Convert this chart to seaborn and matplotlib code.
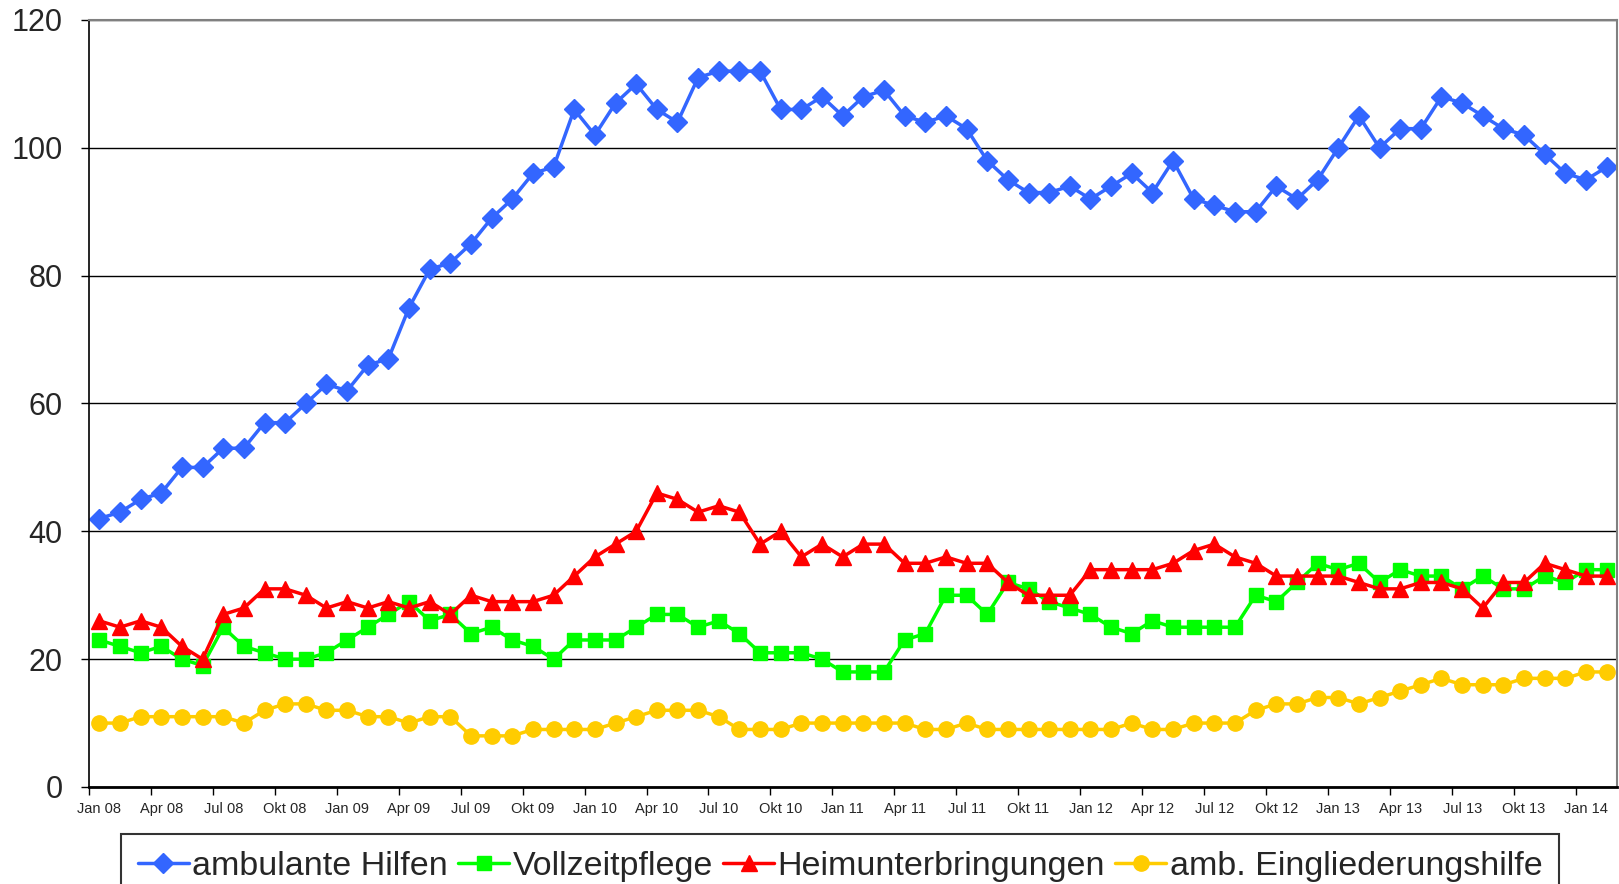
import numpy as np
import pandas as pd
import matplotlib
matplotlib.use("Agg")
import matplotlib.pyplot as plt
import seaborn as sns

months = ["Jan", "Feb", "Mrz", "Apr", "Mai", "Jun", "Jul", "Aug", "Sep", "Okt", "Nov", "Dez"]
periods = [f"{months[m]} {y:02d}" for y in range(8, 15) for m in range(12)][:74]

ambulante_hilfen = [42, 43, 45, 46, 50, 50, 53, 53, 57, 57, 60, 63, 62, 66, 67, 75, 81, 82, 85, 89,
                    92, 96, 97, 106, 102, 107, 110, 106, 104, 111, 112, 112, 112, 106, 106, 108, 105, 108, 109,
                    105, 104, 105, 103, 98, 95, 93, 93, 94, 92, 94, 96, 93, 98, 92, 91, 90, 90, 94, 92,
                    95, 100, 105, 100, 103, 103, 108, 107, 105, 103, 102, 99, 96, 95, 97]
vollzeitpflege = [23, 22, 21, 22, 20, 19, 25, 22, 21, 20, 20, 21, 23, 25, 27, 29, 26, 27, 24, 25,
                  23, 22, 20, 23, 23, 23, 25, 27, 27, 25, 26, 24, 21, 21, 21, 20, 18, 18, 18,
                  23, 24, 30, 30, 27, 32, 31, 29, 28, 27, 25, 24, 26, 25, 25, 25, 25, 30, 29, 32,
                  35, 34, 35, 32, 34, 33, 33, 31, 33, 31, 31, 33, 32, 34, 34]
heimunterbringungen = [26, 25, 26, 25, 22, 20, 27, 28, 31, 31, 30, 28, 29, 28, 29, 28, 29, 27, 30, 29,
                       29, 29, 30, 33, 36, 38, 40, 46, 45, 43, 44, 43, 38, 40, 36, 38, 36, 38, 38,
                       35, 35, 36, 35, 35, 32, 30, 30, 30, 34, 34, 34, 34, 35, 37, 38, 36, 35, 33, 33,
                       33, 33, 32, 31, 31, 32, 32, 31, 28, 32, 32, 35, 34, 33, 33]
eingliederungshilfe = [10, 10, 11, 11, 11, 11, 11, 10, 12, 13, 13, 12, 12, 11, 11, 10, 11, 11, 8, 8,
                       8, 9, 9, 9, 9, 10, 11, 12, 12, 12, 11, 9, 9, 9, 10, 10, 10, 10, 10,
                       10, 9, 9, 10, 9, 9, 9, 9, 9, 9, 9, 10, 9, 9, 10, 10, 10, 12, 13, 13,
                       14, 14, 13, 14, 15, 16, 17, 16, 16, 16, 17, 17, 17, 18, 18]

series_names = ["ambulante Hilfen", "Vollzeitpflege", "Heimunterbringungen", "amb. Eingliederungshilfe"]
series_values = [ambulante_hilfen, vollzeitpflege, heimunterbringungen, eingliederungshilfe]
colors = ["#3366FF", "#00FF00", "#FF0000", "#FFCC00"]
markers = ["D", "s", "^", "o"]
msizes = [10, 10, 11.5, 11]

xtick_labels = ["Jan 08", "Apr 08", "Jul 08", "Okt 08", "Jan 09", "Apr 09", "Jul 09", "Okt 09",
                "Jan 10", "Apr 10", "Jul 10", "Okt 10", "Jan 11", "Apr 11", "Jul 11", "Okt 11",
                "Jan 12", "Apr 12", "Jul 12", "Okt 12", "Jan 13", "Apr 13", "Jul 13", "Okt 13", "Jan 14"]

sns.set_style("white")
plt.rcParams["font.family"] = ["Liberation Sans", "DejaVu Sans"]

fig = plt.figure(figsize=(16.19, 8.84), dpi=100)
ax = fig.add_axes([89 / 1619, 97 / 884, 1528 / 1619, 767 / 884])

x = np.arange(len(periods))
for name, vals, c, m, ms in zip(series_names, series_values, colors, markers, msizes):
    df = pd.DataFrame({"x": x, "y": vals})
    sns.lineplot(data=df, x="x", y="y", ax=ax, color=c, marker=m, markersize=ms,
                 markeredgecolor=c, markeredgewidth=1, linewidth=2.5, label=name)

ax.set_xlim(-0.5, len(periods) - 0.5)
ax.set_ylim(0, 120)
ax.set_yticks(np.arange(0, 121, 20))
ax.yaxis.grid(True, color="black", linewidth=1)
ax.xaxis.grid(False)
ax.set_xlabel("")
ax.set_ylabel("")

# label ticks at category centres, tick marks at category boundaries
ax.set_xticks(np.arange(0, len(periods), 3))
ax.set_xticklabels(xtick_labels, fontsize=10.5)
ax.set_xticks(np.arange(-0.5, len(periods), 3), minor=True)
ax.tick_params(axis="x", which="minor", direction="out", length=6, width=1, color="black", bottom=True)
ax.tick_params(axis="x", which="major", length=0, pad=11)
ax.tick_params(axis="y", direction="out", length=6, width=1, color="black", left=True,
               labelsize=22, pad=13)

for side in ["left", "bottom"]:
    ax.spines[side].set_color("black")
ax.spines["left"].set_linewidth(1.2)
ax.spines["bottom"].set_linewidth(2)
ax.spines["top"].set_color("#808080")
ax.spines["right"].set_color("#808080")
ax.spines["top"].set_linewidth(1.5)
ax.spines["right"].set_linewidth(1.5)

leg = ax.legend(loc="upper center", bbox_to_anchor=(840 / 1619, 1 - 834 / 884),
                bbox_transform=fig.transFigure, ncol=4, fontsize=24.5, frameon=True,
                fancybox=False, edgecolor="black", handlelength=1.5, handletextpad=0.1,
                columnspacing=0.3, borderpad=0.5, borderaxespad=0)
leg.get_frame().set_linewidth(1.5)

fig.savefig("out.png", dpi=100)
